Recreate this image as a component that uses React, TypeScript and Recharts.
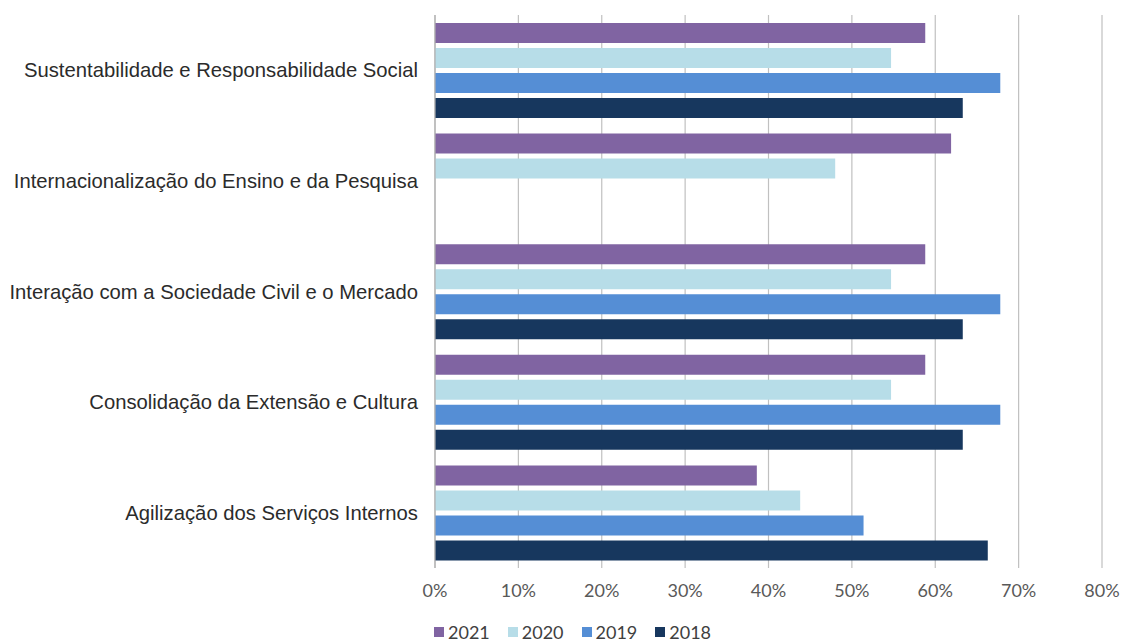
import { BarChart, Bar, XAxis, YAxis, CartesianGrid, Legend } from 'recharts'

const categories = [
  'Sustentabilidade e Responsabilidade Social',
  'Internacionalização do Ensino e da Pesquisa',
  'Interação com a Sociedade Civil e o Mercado',
  'Consolidação da Extensão e Cultura',
  'Agilização dos Serviços Internos',
]

const y2021 = [58.8, 61.9, 58.8, 58.8, 38.6]
const y2020 = [54.7, 48.0, 54.7, 54.7, 43.8]
const y2019 = [67.8, null, 67.8, 67.8, 51.4]
const y2018 = [63.3, null, 63.3, 63.3, 66.3]

const xTicks = [0, 10, 20, 30, 40, 50, 60, 70, 80]

const series = [
  { key: '2021', color: '#8064a2' },
  { key: '2020', color: '#b7dde8' },
  { key: '2019', color: '#558ed5' },
  { key: '2018', color: '#17375e' },
]

const data = categories.map((name, i) => ({
  name,
  '2021': y2021[i],
  '2020': y2020[i],
  '2019': y2019[i],
  '2018': y2018[i],
}))

const LegendBox = () => (
  <div style={{ display: 'flex', fontFamily: 'Lato, sans-serif', fontSize: 18, color: '#404040', lineHeight: '20px' }}>
    {series.map(s => (
      <div key={s.key} style={{ display: 'flex', alignItems: 'center', marginRight: 18 }}>
        <span style={{ width: 10, height: 10, background: s.color, marginRight: 4, display: 'inline-block' }} />
        <span>{s.key}</span>
      </div>
    ))}
  </div>
)

export default function App() {
  return (
    <div style={{ position: 'absolute', left: 0, top: 0, background: '#fff' }}>
      <BarChart
        layout="vertical"
        width={1121}
        height={641}
        data={data}
        margin={{ top: 15, right: 19, bottom: 0, left: 0 }}
        barCategoryGap={8}
        barGap={5}
      >
        <CartesianGrid horizontal={false} stroke="#c0c0c0" strokeWidth={1.2} />
        <XAxis
          type="number"
          domain={[0, 80]}
          ticks={xTicks}
          tickFormatter={(v: number) => `${v}%`}
          axisLine={false}
          tickLine={false}
          tickSize={0}
          tickMargin={16}
          height={73}
          tick={{ fontSize: 18, fill: '#595959', fontFamily: 'Lato, sans-serif' }}
        />
        <YAxis
          type="category"
          dataKey="name"
          width={435}
          axisLine={{ stroke: '#b0b0b0', strokeWidth: 1.2 }}
          tickLine={false}
          tickSize={0}
          tickMargin={17}
          interval={0}
          tick={{ fontSize: 20.25, fill: '#2b2b2b', fontFamily: '"Liberation Sans", Arial, sans-serif' }}
        />
        <Legend
          verticalAlign="middle"
          align="center"
          content={() => <LegendBox />}
          wrapperStyle={{ top: 622, left: 434, width: 'auto' }}
        />
        {series.map(s => (
          <Bar key={s.key} dataKey={s.key} fill={s.color} isAnimationActive={false} />
        ))}
      </BarChart>
    </div>
  )
}
